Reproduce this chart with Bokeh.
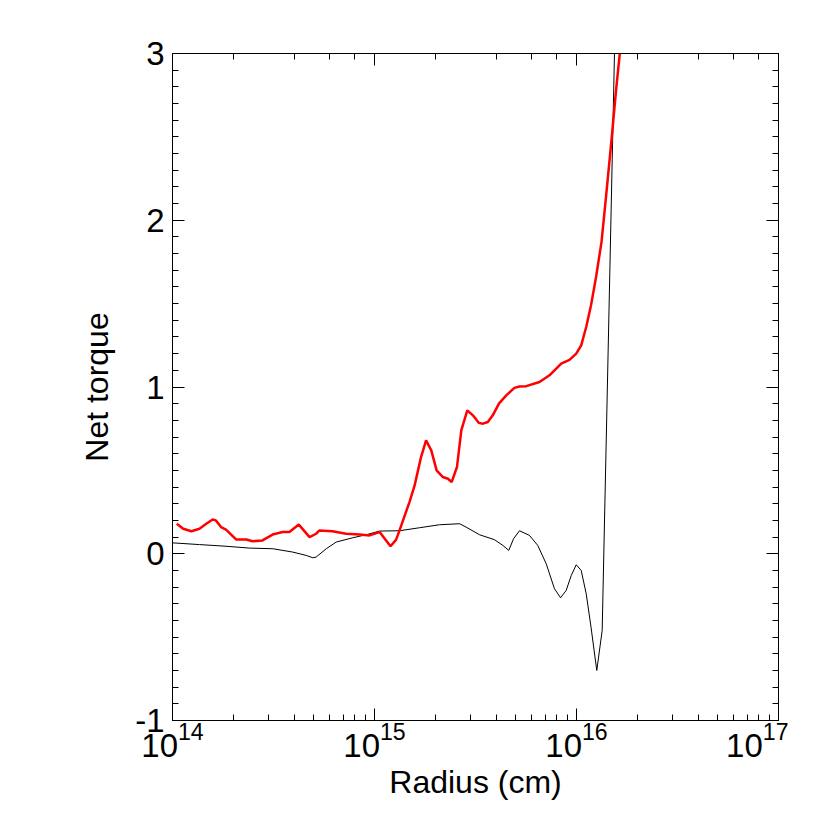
from bokeh.plotting import figure
from bokeh.models import LogAxis, LinearAxis, Range1d, CustomJSTickFormatter
from bokeh.embed import file_html
from bokeh.resources import INLINE

# Red curve (thick)
red_r = [1.05e14, 1.13e14, 1.24e14, 1.36e14, 1.47e14, 1.58e14, 1.64e14, 1.74e14, 1.84e14,
         2.07e14, 2.32e14, 2.49e14, 2.79e14, 3.13e14, 3.51e14, 3.79e14, 4.22e14, 4.77e14,
         5.14e14, 5.34e14, 6.19e14, 7.24e14, 8.43e14, 9.45e14, 1.06e15, 1.20e15, 1.28e15,
         1.33e15, 1.49e15, 1.58e15, 1.70e15, 1.80e15, 1.91e15, 2.03e15, 2.18e15, 2.31e15,
         2.41e15, 2.56e15, 2.69e15, 2.88e15, 3.07e15, 3.28e15, 3.44e15, 3.64e15, 3.85e15,
         4.13e15, 4.49e15, 4.93e15, 5.22e15, 5.64e15, 6.56e15, 7.35e15, 8.40e15, 9.23e15,
         9.97e15, 1.055e16, 1.117e16, 1.18e16, 1.25e16, 1.33e16, 1.40e16, 1.49e16, 1.57e16,
         1.67e16]
red_t = [0.18, 0.15, 0.135, 0.15, 0.18, 0.205, 0.20, 0.16, 0.145,
         0.085, 0.085, 0.075, 0.08, 0.115, 0.13, 0.13, 0.175, 0.10,
         0.12, 0.14, 0.135, 0.12, 0.115, 0.11, 0.13, 0.045, 0.085,
         0.14, 0.31, 0.41, 0.58, 0.68, 0.62, 0.50, 0.46, 0.45,
         0.43, 0.52, 0.74, 0.86, 0.83, 0.785, 0.78, 0.79, 0.83,
         0.90, 0.95, 0.995, 1.003, 1.005, 1.03, 1.07, 1.14, 1.163,
         1.20, 1.25, 1.36, 1.49, 1.66, 1.87, 2.14, 2.48, 2.78,
         3.10]

# Black curve (thin)
blk_r = [1.0e14, 1.04e14, 1.36e14, 1.84e14, 2.40e14, 3.14e14, 3.94e14, 4.59e14, 4.95e14,
         5.14e14, 5.77e14, 6.46e14, 7.81e14, 9.10e14, 1.06e15, 1.33e15, 1.67e15, 2.10e15,
         2.64e15, 2.84e15, 3.31e15, 3.93e15, 4.32e15, 4.62e15, 4.88e15, 5.22e15, 5.85e15,
         6.43e15, 7.08e15, 7.78e15, 8.34e15, 8.89e15, 9.42e15, 9.97e15, 1.055e16, 1.117e16,
         1.18e16, 1.26e16, 1.34e16, 1.56e16]
blk_t = [0.065, 0.064, 0.055, 0.045, 0.034, 0.03, 0.01, -0.01, -0.024,
         -0.02, 0.03, 0.07, 0.096, 0.114, 0.136, 0.138, 0.156, 0.174,
         0.18, 0.16, 0.114, 0.084, 0.05, 0.02, 0.09, 0.138, 0.11,
         0.05, -0.06, -0.21, -0.264, -0.22, -0.13, -0.066, -0.10, -0.24,
         -0.44, -0.70, -0.46, 3.29]

x_lo, x_hi = 1e14, 1e17
y_lo, y_hi = -1, 3

FONT = "Liberation Sans"

p = figure(x_axis_type="log", output_backend="svg", toolbar_location=None,
           frame_width=606, frame_height=667,
           min_border_left=172, min_border_top=53, min_border_right=10, min_border_bottom=10,
           x_range=Range1d(x_lo, x_hi), y_range=Range1d(y_lo, y_hi))
p.grid.visible = False
p.outline_line_color = None
p.background_fill_color = "white"
p.border_fill_color = "white"

p.line(blk_r, blk_t, line_color="black", line_width=1)
p.line(red_r, red_t, line_color="#ff0000", line_width=2.5)


def style(ax):
    ax.axis_line_color = "black"
    ax.axis_line_width = 1
    ax.major_tick_line_color = "black"
    ax.minor_tick_line_color = "black"
    ax.major_tick_in = 12
    ax.major_tick_out = 0
    ax.minor_tick_in = 6
    ax.minor_tick_out = 0
    ax.major_label_text_font = FONT
    ax.major_label_text_font_size = "33px"
    ax.major_label_text_color = "black"
    ax.axis_label_text_font = FONT
    ax.axis_label_text_font_size = "32px"
    ax.axis_label_text_font_style = "normal"
    ax.axis_label_text_color = "black"


xa = p.xaxis[0]
style(xa)
xa.axis_label = "Radius (cm)"
xa.major_label_standoff = 1
xa.axis_label_standoff = 4

ya = p.yaxis[0]
style(ya)
ya.axis_label = "Net torque"
ya.formatter = CustomJSTickFormatter(code="return tick.toFixed(0);")
ya.ticker.desired_num_ticks = 5
ya.ticker.num_minor_ticks = 10
ya.major_label_standoff = 8
ya.axis_label_standoff = 17

blank = CustomJSTickFormatter(code="return ' ';")

top = LogAxis(formatter=blank)
style(top)
top.major_label_text_font_size = "8px"
top.major_label_standoff = 0
p.add_layout(top, "above")

right = LinearAxis(formatter=blank)
style(right)
right.major_label_text_font_size = "8px"
right.major_label_standoff = 0
right.ticker.desired_num_ticks = 5
right.ticker.num_minor_ticks = 10
p.add_layout(right, "right")

open("out.html", "w").write(file_html(p, INLINE))
